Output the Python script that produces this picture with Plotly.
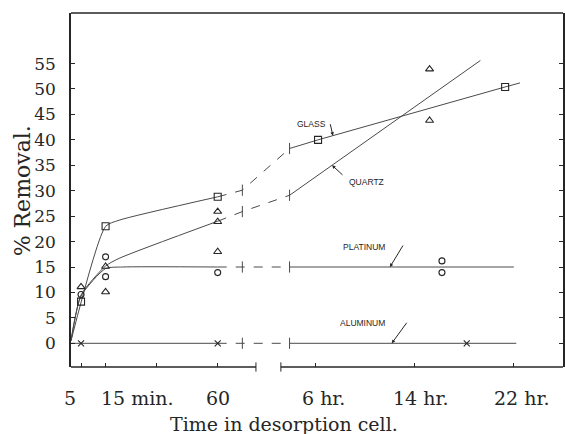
import numpy as np
import plotly.graph_objects as go

# ---- measured points: time in hours, % removal ----
GLASS_T = [5/60, 15/60, 1.0, 6.2, 21.3]
GLASS_V = [8.2, 23.0, 28.8, 40.0, 50.4]
QUARTZ_T = [5/60, 15/60, 15/60, 1.0, 1.0, 1.0, 15.2, 15.2]
QUARTZ_V = [11.1, 15.1, 10.1, 25.9, 23.9, 18.0, 53.9, 43.8]
PLATINUM_T = [5/60, 15/60, 15/60, 1.0, 16.2, 16.2]
PLATINUM_V = [9.6, 17.0, 13.1, 13.9, 16.2, 13.9]
ALUMINUM_T = [5/60, 1.0, 18.2]
ALUMINUM_V = [0.0, 0.0, 0.0]

# ---- smooth curves drawn through the points ----
GLASS_CURVE_T = [0, 15/60, 19/60, 1.0, 1.4, 3.9, 6.2, 21.3, 22.5]
GLASS_CURVE_V = [0.5, 23.0, 24.2, 28.8, 30.1, 38.3, 40.0, 50.4, 51.2]
QUARTZ_CURVE_T = [0, 5/60, 15/60, 19/60, 1.0, 1.4, 3.9, 19.3]
QUARTZ_CURVE_V = [0.5, 9.5, 15.2, 16.7, 24.0, 25.9, 29.1, 55.6]
PLATINUM_CURVE_T = [0, 5/60, 15/60, 20/60, 1.0, 1.4, 3.9, 22.0]
PLATINUM_CURVE_V = [0.5, 9.3, 14.7, 15.0, 15.0, 15.0, 15.0, 15.0]
ALUMINUM_CURVE_T = [0, 1.0, 1.4, 3.9, 22.2]
ALUMINUM_CURVE_V = [0.0, 0.0, 0.0, 0.0, 0.0]

# ---- axis ticks ----
X_TICK_T = [5/60, 15/60, 0.5, 1.0, 6.0, 14.0, 22.0]
X_TICK_TEXT = ["5", "15 min.", "", "60", "6 hr.", "14 hr.", "22 hr."]
Y_TICKS = list(range(0, 60, 5))

# time scale: minutes are stretched, hours are linear, with a break between
SCALE_T = [0, 5/60, 0.25, 0.5, 1.0, 1.4, 3.9, 30.0]
SCALE_U = [-13.74, -12.93, -10.95, -6.85, -1.90, 0.09, 3.9, 30.0]
CURVE_BREAK_T = [1.4, 3.9]      # where the curves are interrupted
AXIS_GAP_T = [2.12, 3.44]       # gap in the time axis


def tx(t):
    return np.interp(np.asarray(t, dtype=float), SCALE_T, SCALE_U)


INK = "#262626"
LINE = "#4a4a4a"
SERIF = "DejaVu Serif"
SANS = "Liberation Sans"

fig = go.Figure()


def add_curve(ts, vs):
    ts = np.asarray(ts, float)
    vs = np.asarray(vs, float)
    parts = [
        (ts <= 1.0, "solid", "spline"),
        ((ts >= 1.0) & (ts <= 3.9), "dash", "linear"),
        (ts >= 3.9, "solid", "linear"),
    ]
    for mask, dash, shape in parts:
        if mask.sum() < 2:
            continue
        fig.add_trace(go.Scatter(
            x=tx(ts[mask]), y=vs[mask], mode="lines",
            line=dict(color=LINE, width=1, dash=dash, shape=shape,
                      smoothing=0.6 if shape == "spline" else None),
            hoverinfo="skip", showlegend=False))
    # short strokes marking the interruption
    bt = np.array(CURVE_BREAK_T)
    fig.add_trace(go.Scatter(
        x=tx(bt), y=np.interp(bt, ts, vs), mode="markers",
        marker=dict(symbol="line-ns-open", size=8, color=LINE,
                    line=dict(color=LINE, width=1)),
        hoverinfo="skip", showlegend=False))


for ct, cv in [(GLASS_CURVE_T, GLASS_CURVE_V), (QUARTZ_CURVE_T, QUARTZ_CURVE_V),
               (PLATINUM_CURVE_T, PLATINUM_CURVE_V), (ALUMINUM_CURVE_T, ALUMINUM_CURVE_V)]:
    add_curve(ct, cv)

for name, t, v, sym, size in [
    ("Glass", GLASS_T, GLASS_V, "square-open", 7),
    ("Quartz", QUARTZ_T, QUARTZ_V, "triangle-up-open", 7),
    ("Platinum", PLATINUM_T, PLATINUM_V, "circle-open", 6),
    ("Aluminum", ALUMINUM_T, ALUMINUM_V, "x-thin-open", 6),
]:
    fig.add_trace(go.Scatter(
        x=tx(t), y=v, mode="markers", name=name,
        marker=dict(symbol=sym, size=size, color=INK, line=dict(color=INK, width=1.1)),
        showlegend=False))

# bottom axis drawn in two pieces around the gap, plus the top frame line
g0, g1 = tx(AXIS_GAP_T)
shapes = [
    dict(type="line", xref="paper", yref="paper", x0=0, x1=1, y0=1, y1=1,
         line=dict(color=INK, width=1.6)),
    dict(type="line", xref="x", yref="paper", x0=SCALE_U[0], x1=g0, y0=0, y1=0,
         line=dict(color=INK, width=1.6)),
    dict(type="line", xref="x", yref="paper", x0=g1, x1=30, y0=0, y1=0,
         line=dict(color=INK, width=1.6)),
    dict(type="line", xref="x", yref="paper", x0=g0, x1=g0, y0=-0.013, y1=0.013,
         line=dict(color=INK, width=1)),
    dict(type="line", xref="x", yref="paper", x0=g1, x1=g1, y0=-0.013, y1=0.013,
         line=dict(color=INK, width=1)),
]

annotations = []
# time labels under the axis
label_shift = [-11, -7, 0, 0, 8, 6, 8]
label_anchor = ["center", "left", "center", "center", "center", "center", "center"]
for t, txt, sh, anc in zip(X_TICK_T, X_TICK_TEXT, label_shift, label_anchor):
    if not txt:
        continue
    annotations.append(dict(x=float(tx(t)), y=-0.088, xref="x", yref="paper",
                            text=txt, showarrow=False, xanchor=anc, yanchor="middle",
                            xshift=sh, font=dict(family=SERIF, size=19, color=INK)))
annotations.append(dict(x=0.433, y=-0.161, xref="paper", yref="paper",
                        text="Time in desorption cell.", showarrow=False,
                        xanchor="center", yanchor="middle",
                        font=dict(family=SERIF, size=19, color=INK)))
annotations.append(dict(x=-0.099, y=0.497, xref="paper", yref="paper",
                        text="% Removal.", textangle=-90, showarrow=False,
                        xanchor="center", yanchor="middle",
                        font=dict(family=SERIF, size=22, color=INK)))

# curve names with pointer arrows
lab_font = dict(family=SANS, size=8.5, color=INK)
annotations += [
    dict(x=float(tx(7.0)), y=43.1, text="GLASS", xanchor="right", showarrow=False, font=lab_font),
    dict(x=float(tx(8.5)), y=31.7, text="QUARTZ", xanchor="left", showarrow=False, font=lab_font),
    dict(x=float(tx(11.75)), y=19.0, text="PLATINUM", xanchor="right", showarrow=False, font=lab_font),
    dict(x=float(tx(11.75)), y=4.0, text="ALUMINUM", xanchor="right", showarrow=False, font=lab_font),
]
for curve_t, curve_v, t_head, ax, ay in [
    (GLASS_CURVE_T, GLASS_CURVE_V, 7.4, -3, -13),
    (QUARTZ_CURVE_T, QUARTZ_CURVE_V, 7.33, 12, 11),
    (PLATINUM_CURVE_T, PLATINUM_CURVE_V, 12.0, 14, -23),
    (ALUMINUM_CURVE_T, ALUMINUM_CURVE_V, 12.15, 16, -22),
]:
    annotations.append(dict(x=float(tx(t_head)), y=float(np.interp(t_head, curve_t, curve_v)),
                            text="", showarrow=True, ax=ax, ay=ay,
                            arrowhead=2, arrowsize=0.7, arrowwidth=1, arrowcolor=INK))

fig.update_layout(
    width=565, height=434,
    margin=dict(l=71, r=0, t=13, b=67),
    paper_bgcolor="white", plot_bgcolor="white",
    shapes=shapes, annotations=annotations,
    xaxis=dict(range=[SCALE_U[0], 25.97], showgrid=False, zeroline=False,
               showline=False, tickvals=tx(X_TICK_T), ticktext=[""] * len(X_TICK_T),
               ticks="inside", ticklen=4, tickcolor=INK, tickwidth=1),
    yaxis=dict(range=[-4.66, 64.94], showgrid=False, zeroline=False,
               showline=True, linecolor=INK, linewidth=1.6, mirror="ticks",
               tickvals=Y_TICKS, ticks="inside", ticklen=4, tickcolor=INK,
               tickwidth=1, ticklabelstandoff=10,
               tickfont=dict(family=SERIF, size=17, color=INK)),
)

fig.write_html("out.html")
